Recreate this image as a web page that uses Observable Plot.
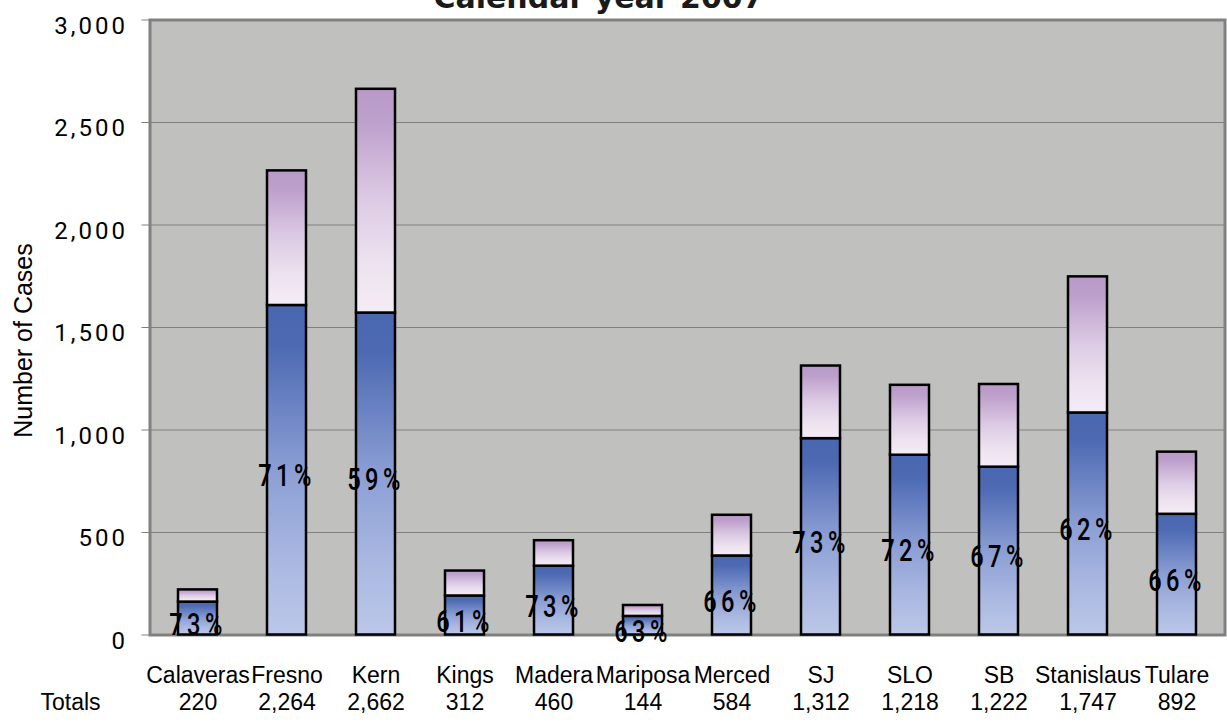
<!DOCTYPE html>
<html>
<head>
<meta charset="utf-8">
<script src="https://cdn.jsdelivr.net/npm/d3@7"></script>
<script src="https://cdn.jsdelivr.net/npm/@observablehq/plot@0.6"></script>
<style>
  html, body { margin: 0; padding: 0; background: #ffffff; }
  #chart { width: 1227px; height: 722px; overflow: hidden; }
</style>
</head>
<body>
<div id="chart"></div>
<script>
// Counties, yearly case totals and the share of each total in the lower segment
const counties = ["Calaveras", "Fresno", "Kern", "Kings", "Madera", "Mariposa", "Merced", "SJ", "SLO", "SB", "Stanislaus", "Tulare"];
const totals = [220, 2264, 2662, 312, 460, 144, 584, 1312, 1218, 1222, 1747, 892];
const shares = [73, 71, 59, 61, 73, 63, 66, 73, 72, 67, 62, 66];
const yTicks = [0, 500, 1000, 1500, 2000, 2500, 3000];
const titleText = "Calendar year 2007";
const yLabel = "Number of Cases";
const totalsLabel = "Totals";

const rows = counties.map((county, i) => ({
  county,
  total: totals[i],
  share: shares[i],
  lower: totals[i] * shares[i] / 100
}));

const fmt = d3.format(",");

// Vertical gradients used to fill each bar segment
function gradients() {
  const defs = d3.create("svg:defs");
  const add = (id, stops) => {
    const g = defs.append("linearGradient").attr("id", id)
      .attr("x1", 0).attr("y1", 0).attr("x2", 0).attr("y2", 1);
    for (const [o, c] of stops) g.append("stop").attr("offset", o).attr("stop-color", c);
  };
  add("gradLower", [[0, "#4A67B1"], [0.12, "#4C69B2"], [0.5, "#8B9ED4"], [0.78, "#AAB8E1"], [1, "#BCC7E8"]]);
  add("gradUpper", [[0, "#B899C8"], [0.15, "#BEA0CC"], [0.5, "#DDCBE5"], [0.78, "#EDE2EF"], [1, "#F3ECF5"]]);
  return defs.node();
}

const marginLeft = 149.5, marginRight = 2.5, marginTop = 19.5, marginBottom = 87.5;
const frameCenterX = (marginLeft + (1227 - marginRight)) / 2;

const chart = Plot.plot({
  width: 1227,
  height: 722,
  marginLeft, marginRight, marginTop, marginBottom,
  style: { background: "#ffffff", color: "#000000", overflow: "visible" },
  x: { domain: counties, paddingInner: 0.56, paddingOuter: 0.28, axis: null },
  y: { domain: [0, 3000], axis: null },
  marks: [
    gradients,
    Plot.frame({ fill: "#C0C0BE" }),
    Plot.gridY(yTicks, { stroke: "#808080", strokeOpacity: 1, strokeWidth: 1 }),
    Plot.frame({ stroke: "#808080", strokeWidth: 3 }),
    // short tick marks left of the plot area
    Plot.axisY(yTicks, { tickSize: 8, stroke: "#808080", strokeWidth: 1, tickFormat: () => "", label: null }),
    Plot.text(yTicks, {
      y: (d) => d, frameAnchor: "left", textAnchor: "end", dx: -22, dy: 6,
      text: (d) => fmt(d), fontSize: 24, fontFamily: "Roboto", fill: "#000000", ariaDescription: "y-tick-text"
    }),
    Plot.barY(rows, { x: "county", y1: 0, y2: "lower", fill: "url(#gradLower)", stroke: "#000000", strokeWidth: 2.5 }),
    Plot.barY(rows, { x: "county", y1: "lower", y2: "total", fill: "url(#gradUpper)", stroke: "#000000", strokeWidth: 2.5 }),
    Plot.text(rows, {
      x: "county", y: (d) => d.lower / 2, text: (d) => d.share + "%",
      dy: 6, fontSize: 32, fontWeight: 500, fontFamily: "Roboto", fill: "#000000",
      ariaDescription: "share-label"
    }),
    Plot.axisX({ tickSize: 0, tickPadding: 32, fontSize: 23, fontFamily: "Liberation Sans", label: null }),
    Plot.text(rows, {
      x: "county", frameAnchor: "bottom", text: (d) => fmt(d.total),
      dy: 75, fontSize: 23, fontFamily: "Liberation Sans", fill: "#000000"
    }),
    Plot.text([totalsLabel], {
      frameAnchor: "bottom-left", dx: 40 - marginLeft, dy: 75, textAnchor: "start",
      fontSize: 23, fontFamily: "Liberation Sans", fill: "#000000"
    }),
    Plot.text([yLabel], {
      frameAnchor: "left", rotate: -90, textAnchor: "middle", dx: 23 - marginLeft, dy: 13,
      fontSize: 25, fontFamily: "Liberation Sans", fill: "#000000"
    }),
    Plot.text([titleText], {
      frameAnchor: "top", dx: 598 - frameCenterX, dy: -33,
      fontSize: 30, fontWeight: "bold", fontFamily: "DejaVu Sans", fill: "#1a1a1a"
    })
  ]
});

// letter spacing for the tick numbers; tall, narrow, spaced-out share labels
const root = d3.select(chart);
root.selectAll('g[aria-description="y-tick-text"] text').style("letter-spacing", "3px");
root.selectAll('g[aria-description="share-label"] text')
  .style("letter-spacing", "6px")
  .each(function () {
    const t = this.getAttribute("transform");
    if (t) this.setAttribute("transform", t + " scale(0.74,1)");
  });

document.getElementById("chart").appendChild(chart);
</script>
</body>
</html>
